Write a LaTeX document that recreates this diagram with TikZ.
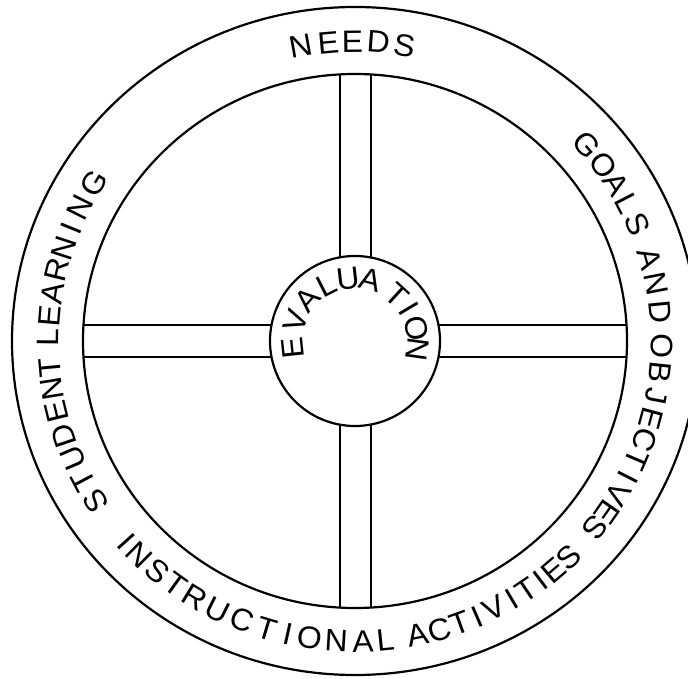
\documentclass[tikz,border=0pt]{standalone}
\usepackage{fontspec}
\setmainfont{Liberation Sans}
\tikzset{
  rim/.style={line width=2.2pt},
  spoke/.style={line width=2pt},
  ltr/.style={inner sep=0pt, anchor=base, font=\fontsize{31}{31}\selectfont},
}
\newcommand\outletters[3]{%
  \foreach \a/\c in {#3} {%
    \node[ltr, rotate=\a-90] at ([shift={(\a:#1 and #2)}]C) {\scalebox{1.03}[1]{\c}};}}
\newcommand\inletters[3]{%
  \foreach \a/\c in {#3} {%
    \node[ltr, rotate=\a+90] at ([shift={(\a:#1 and #2)}]C) {\scalebox{1.03}[1]{\c}};}}
\begin{document}
\begin{tikzpicture}[x=1pt,y=1pt]
\useasboundingbox (0,0) rectangle (688,678);
\clip (0,0) rectangle (688,678);
\fill[white] (0,0) rectangle (688,678);
\coordinate (C) at (355,337);
% rims
\draw[rim] (C) ellipse [x radius=343, y radius=334];
\draw[rim] (C) ellipse [x radius=272, y radius=267];
% hub
\node[draw, circle, minimum size=170pt, inner sep=0pt, line width=2.2pt] (hub) at (C) {};
% spokes
\coordinate (vt1) at (339.5,420.6); \coordinate (vt2) at (339.5,603.6);
\coordinate (vt3) at (370.5,420.6); \coordinate (vt4) at (370.5,603.6);
\coordinate (vb1) at (339.5,253.4); \coordinate (vb2) at (339.5,70.4);
\coordinate (vb3) at (370.5,253.4); \coordinate (vb4) at (370.5,70.4);
\coordinate (hr1) at (438.5,353); \coordinate (hr2) at (626.5,353);
\coordinate (hr3) at (438.5,321); \coordinate (hr4) at (626.5,321);
\coordinate (hl1) at (271.5,353); \coordinate (hl2) at (83.5,353);
\coordinate (hl3) at (271.5,321); \coordinate (hl4) at (83.5,321);
\draw[spoke] (vt1) -- (vt2) (vt3) -- (vt4) (vb1) -- (vb2) (vb3) -- (vb4)
             (hr1) -- (hr2) (hr3) -- (hr4) (hl1) -- (hl2) (hl3) -- (hl4);
% outer labels
\outletters{296}{289}{100.1/N,95/E,90.5/E,85.6/D,80.6/S}
\outletters{296}{289}{41/G,36/O,31.5/A,27.3/L,23/S,16/A,11/N,5.5/D,-1/O,-6/B,-10.6/J,-15/E,-19.3/C,-23.3/T,-27/I,-30.8/V,-34.8/E,-38.5/S}
\outletters{296}{289}{212.2/S,207.8/T,203/U,198.4/D,193.6/E,189.2/N,185.2/T,179.4/L,175.2/E,170.9/A,166.3/R,161.9/N,157.9/I,153.5/N,148.2/G}
\inletters{318}{311}{-138/I,-134.5/N,-130/S,-125.8/T,-121.3/R,-116.5/U,-111.6/C,-106.6/T,-102.6/I,-98.5/O,-93.5/N,-88.5/A,-84.3/L,-78.2/A,-74/C,-70/T,-66.6/I,-63/V,-59.4/I,-56/T,-52.8/I,-49.7/E,-46/S}
% hub label
\outletters{52}{52}{186/E,161/V,139/A,117/L,96.5/U,75.5/A,47.5/T,31/I,12/O,-8/N}
\end{tikzpicture}
\end{document}
